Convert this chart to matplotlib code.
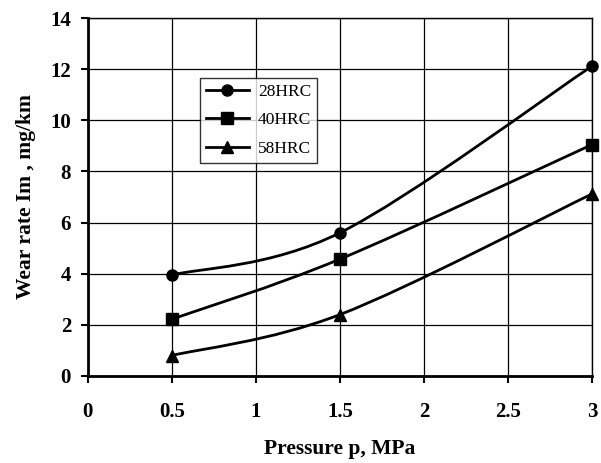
import matplotlib
matplotlib.use("Agg")
from matplotlib import pyplot as plt
from matplotlib.path import Path
from matplotlib.patches import PathPatch
from matplotlib.lines import Line2D

pressure = [0.5, 1.5, 3.0]
hrc28 = [3.95, 5.6, 12.12]
hrc40 = [2.22, 4.57, 9.05]
hrc58 = [0.8, 2.4, 7.12]
labels = ["28HRC", "40HRC", "58HRC"]
markers = ["o", "s", "^"]

plt.rcParams["font.family"] = "Liberation Serif"


def smooth_path(xs, ys):
    # excel-like smoothed line: cubic bezier through the points
    pts = list(zip(xs, ys))
    verts = [pts[0]]
    codes = [Path.MOVETO]
    n = len(pts)
    for i in range(n - 1):
        p0 = pts[max(i - 1, 0)]
        p1 = pts[i]
        p2 = pts[i + 1]
        p3 = pts[min(i + 2, n - 1)]
        c1 = (p1[0] + (p2[0] - p0[0]) / 6, p1[1] + (p2[1] - p0[1]) / 6)
        c2 = (p2[0] - (p3[0] - p1[0]) / 6, p2[1] - (p3[1] - p1[1]) / 6)
        verts += [c1, c2, p2]
        codes += [Path.CURVE4] * 3
    return Path(verts, codes)


fig = plt.figure(figsize=(6.01, 4.63), dpi=100)
ax = fig.add_axes([0.146, 0.188, 0.839, 0.773])

handles = []
for ys, lab, m in zip([hrc28, hrc40, hrc58], labels, markers):
    ax.add_patch(PathPatch(smooth_path(pressure, ys), fill=False,
                           edgecolor="black", lw=2, zorder=3))
    ax.plot(pressure, ys, linestyle="none", marker=m, color="black",
            markersize=8, zorder=4, clip_on=False)
    handles.append(Line2D([], [], color="black", lw=2, marker=m, markersize=8, label=lab))

ax.set_xlim(0, 3)
ax.set_ylim(0, 14)
ax.set_xticks([0, 0.5, 1, 1.5, 2, 2.5, 3])
ax.set_xticklabels(["0", "0.5", "1", "1.5", "2", "2.5", "3"])
ax.set_yticks(range(0, 15, 2))
ax.grid(True, color="black", lw=0.9)
ax.set_axisbelow(True)

for s in ["left", "bottom"]:
    ax.spines[s].set_linewidth(2)
for s in ["top", "right"]:
    ax.spines[s].set_linewidth(1)

ax.tick_params(axis="both", direction="out", length=5, width=1.5,
               labelsize=15, pad=7)
ax.tick_params(axis="x", pad=14)
for t in ax.get_xticklabels() + ax.get_yticklabels():
    t.set_fontweight("bold")

ax.set_xlabel("Pressure p, MPa", fontsize=15.5, fontweight="bold", labelpad=12)
ax.set_ylabel("Wear rate Im , mg/km", fontsize=15.5, fontweight="bold", labelpad=10)

leg = ax.legend(handles=handles, loc="upper left", bbox_to_anchor=(0.222, 0.833),
                fontsize=12.5, frameon=True, fancybox=False, handlelength=2.5,
                handletextpad=0.5, borderpad=0.35, borderaxespad=0,
                labelspacing=0.7)
leg.get_frame().set_edgecolor("black")
leg.get_frame().set_linewidth(1)

fig.savefig("out.png", dpi=100)
